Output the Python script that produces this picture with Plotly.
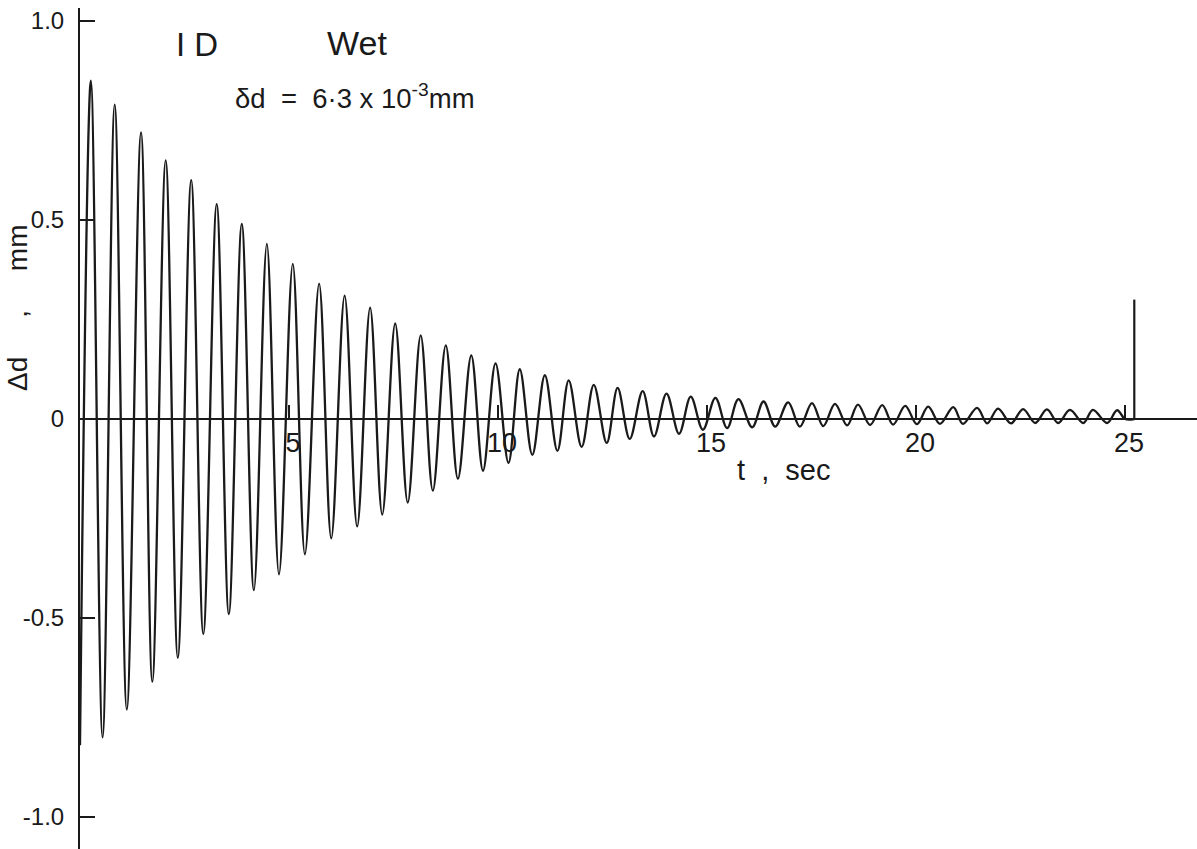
import plotly.graph_objects as go

# Free-decay record: extrema of the displacement trace (t in s, Δd in mm)
trough_t = [0.0, 0.54, 1.12, 1.73, 2.34, 2.95, 3.56, 4.16, 4.76, 5.38,
            6.01, 6.63, 7.23, 7.84, 8.44, 9.04, 9.64, 10.25, 10.82, 11.42,
            12.00, 12.60, 13.15, 13.73, 14.33, 14.90, 15.48, 16.08, 16.63, 17.22,
            17.78, 18.35, 18.90, 19.45, 20.02, 20.57, 21.12, 21.70, 22.27, 22.85,
            23.40, 24.00, 24.57]
trough_v = [-0.82, -0.80, -0.73, -0.66, -0.60, -0.54, -0.49, -0.43, -0.39, -0.34,
            -0.30, -0.27, -0.24, -0.21, -0.18, -0.15, -0.13, -0.11, -0.09, -0.08,
            -0.07, -0.06, -0.05, -0.044, -0.037, -0.027, -0.023, -0.021, -0.019, -0.019,
            -0.018, -0.016, -0.015, -0.014, -0.013, -0.012, -0.012, -0.011, -0.011, -0.010,
            -0.010, -0.010, -0.010]
peak_t = [0.26, 0.83, 1.46, 2.05, 2.66, 3.27, 3.87, 4.47, 5.09, 5.72,
          6.33, 6.94, 7.54, 8.15, 8.75, 9.36, 9.94, 10.52, 11.12, 11.69,
          12.29, 12.86, 13.46, 14.03, 14.61, 15.20, 15.75, 16.35, 16.94, 17.51,
          18.06, 18.61, 19.19, 19.74, 20.29, 20.89, 21.46, 21.96, 22.56, 23.13,
          23.68, 24.23, 24.81]
peak_v = [0.85, 0.79, 0.72, 0.65, 0.60, 0.54, 0.49, 0.44, 0.39, 0.34,
          0.31, 0.28, 0.24, 0.21, 0.185, 0.16, 0.14, 0.125, 0.11, 0.097,
          0.086, 0.078, 0.070, 0.064, 0.056, 0.053, 0.050, 0.044, 0.042, 0.040,
          0.038, 0.036, 0.035, 0.033, 0.031, 0.030, 0.028, 0.026, 0.025, 0.024,
          0.023, 0.023, 0.022]
end_t, end_v = [25.0, 25.22], [0.0, 0.0]

# event marker at the end of the record
marker_t = 25.22
marker_v = 0.30

x_ticks = [5, 10, 15, 20, 25]
x_ticktext = ["5", "10", "15", "20", "25"]
y_ticks = [-1.0, -0.5, 0.0, 0.5, 1.0]
y_ticktext = ["-1.0", "-0.5", "0", "0.5", "1.0"]

pts = sorted(zip(trough_t + peak_t + end_t, trough_v + peak_v + end_v))
curve_t = [p[0] for p in pts]
curve_v = [p[1] for p in pts]

INK = "#1a1a1a"
FONT = "Liberation Sans, Arial, sans-serif"

fig = go.Figure()
fig.add_trace(go.Scatter(
    x=curve_t, y=curve_v, mode="lines",
    line=dict(color=INK, width=2.3, shape="spline", smoothing=1.0),
    hoverinfo="skip", showlegend=False))
fig.add_trace(go.Scatter(
    x=[marker_t, marker_t], y=[0.0, marker_v], mode="lines",
    line=dict(color=INK, width=2.2), hoverinfo="skip", showlegend=False))

ymax, ymin = 1.0327, -1.0804
x_pos = (0 - ymin) / (ymax - ymin)

fig.update_layout(
    width=1197, height=849,
    margin=dict(l=80, r=0, t=8, b=0),
    paper_bgcolor="white", plot_bgcolor="white",
    font=dict(family=FONT, color=INK),
    xaxis=dict(
        range=[0, 26.72], anchor="free", position=x_pos,
        showgrid=False, zeroline=False,
        showline=True, linecolor=INK, linewidth=2,
        ticks="inside", ticklen=13, tickwidth=1.6, tickcolor=INK,
        tickvals=x_ticks, ticktext=x_ticktext,
        tickfont=dict(size=27, family=FONT, color=INK),
        ticklabelshift=4, ticklabelstandoff=0,
    ),
    yaxis=dict(
        range=[ymin, ymax],
        showgrid=False, zeroline=False,
        showline=True, linecolor=INK, linewidth=2,
        ticks="inside", ticklen=15, tickwidth=1.6, tickcolor=INK,
        tickvals=y_ticks, ticktext=y_ticktext,
        tickfont=dict(size=24, family=FONT, color=INK),
        ticklabelstandoff=9,
    ),
)

fig.add_annotation(x=2.8, y=0.94, xref="x", yref="y", text="I D",
                   showarrow=False, font=dict(size=33, family=FONT, color=INK))
fig.add_annotation(x=6.63, y=0.945, xref="x", yref="y", text="Wet",
                   showarrow=False, font=dict(size=34, family=FONT, color=INK))
fig.add_annotation(x=3.66, y=0.81, xref="x", yref="y", xanchor="left",
                   text="δd  =  6·3 x 10<sup>-3</sup>mm",
                   showarrow=False, font=dict(size=27.5, family=FONT, color=INK))
fig.add_annotation(x=16.82, y=-0.128, xref="x", yref="y", text="t  ,  sec",
                   showarrow=False, font=dict(size=29, family=FONT, color=INK))
fig.add_annotation(x=-0.0555, y=0.279, xref="paper", yref="y",
                   xanchor="center", yanchor="middle",
                   text="Δd     ,     mm",
                   textangle=-90, showarrow=False,
                   font=dict(size=28, family=FONT, color=INK))

fig.write_html("out.html")
